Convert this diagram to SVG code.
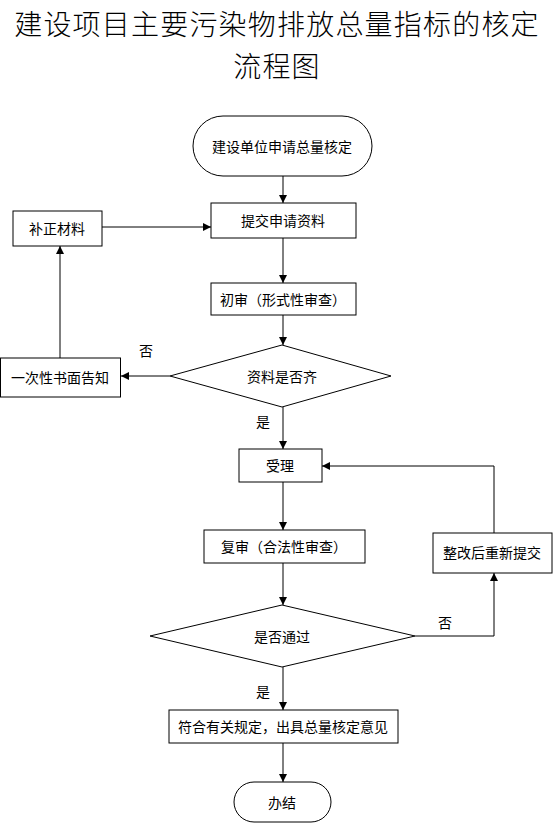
<svg xmlns="http://www.w3.org/2000/svg" width="554" height="824" viewBox="0 0 554 824">
<style>
.n{fill:#fff;stroke:#000;stroke-width:1}
.t{font-family:"Noto Sans CJK SC","Liberation Sans",sans-serif;font-size:14px;fill:#000;text-anchor:middle;dominant-baseline:central}
.title{font-family:"Noto Sans CJK SC","Liberation Sans",sans-serif;font-size:28px;font-weight:300;letter-spacing:1.2px;fill:#000;text-anchor:middle}
.c{fill:none;stroke:#000;stroke-width:1}
</style>
<defs>
<marker id="a" viewBox="0 0 10 10" refX="10" refY="5" markerWidth="8" markerHeight="8" markerUnits="userSpaceOnUse" orient="auto">
<path d="M0,0L10,5L0,10z" fill="#000"/>
</marker>
</defs>
<rect width="554" height="824" fill="#fff"/>
<g id="title">
<text class="title" x="277" y="35">建设项目主要污染物排放总量指标的核定</text>
<text class="title" x="277" y="77">流程图</text>
</g>
<g id="connectors">
<path class="c" d="M283,176V203" marker-end="url(#a)"/>
<path class="c" d="M102,227H211" marker-end="url(#a)"/>
<path class="c" d="M283,238V283" marker-end="url(#a)"/>
<path class="c" d="M283,315V345" marker-end="url(#a)"/>
<path class="c" d="M170,376H121" marker-end="url(#a)"/>
<path class="c" d="M60,358V246" marker-end="url(#a)"/>
<path class="c" d="M283,407V449" marker-end="url(#a)"/>
<path class="c" d="M283,482V530" marker-end="url(#a)"/>
<path class="c" d="M494,533V466H322" marker-end="url(#a)"/>
<path class="c" d="M283,563V605" marker-end="url(#a)"/>
<path class="c" d="M415,636H494V573" marker-end="url(#a)"/>
<path class="c" d="M283,667V710" marker-end="url(#a)"/>
<path class="c" d="M283,743V782" marker-end="url(#a)"/>
<text class="t" x="146" y="350">否</text>
<text class="t" x="263" y="421">是</text>
<text class="t" x="445" y="622">否</text>
<text class="t" x="263" y="691">是</text>
</g>
<g id="start">
<rect class="n" x="193" y="116" width="179" height="60" rx="30" ry="30"/>
<text class="t" x="282" y="146">建设单位申请总量核定</text>
</g>
<g id="submit">
<rect class="n" x="211" y="203" width="145" height="35"/>
<text class="t" x="283" y="220">提交申请资料</text>
</g>
<g id="supplement">
<rect class="n" x="13" y="211" width="89" height="35"/>
<text class="t" x="57" y="228">补正材料</text>
</g>
<g id="firstreview">
<rect class="n" x="211" y="283" width="145" height="32"/>
<text class="t" x="283" y="299">初审（形式性审查）</text>
</g>
<g id="complete">
<polygon class="n" points="282,345 391,376 282,407 170,376"/>
<text class="t" x="282" y="376">资料是否齐</text>
</g>
<g id="notice">
<rect class="n" x="0.5" y="358" width="120" height="39"/>
<text class="t" x="60" y="377">一次性书面告知</text>
</g>
<g id="accept">
<rect class="n" x="239" y="449" width="83" height="33"/>
<text class="t" x="280" y="465">受理</text>
</g>
<g id="review2">
<rect class="n" x="204" y="530" width="161" height="33"/>
<text class="t" x="284" y="546">复审（合法性审查）</text>
</g>
<g id="rectify">
<rect class="n" x="433" y="533" width="119" height="40"/>
<text class="t" x="492" y="552">整改后重新提交</text>
</g>
<g id="pass">
<polygon class="n" points="282,605 415,636 282,667 150,636"/>
<text class="t" x="282" y="636">是否通过</text>
</g>
<g id="opinion">
<rect class="n" x="169" y="710" width="229" height="33"/>
<text class="t" x="283" y="726">符合有关规定，出具总量核定意见</text>
</g>
<g id="end">
<rect class="n" x="234" y="782" width="97" height="40" rx="20" ry="20"/>
<text class="t" x="282" y="802">办结</text>
</g>
</svg>
